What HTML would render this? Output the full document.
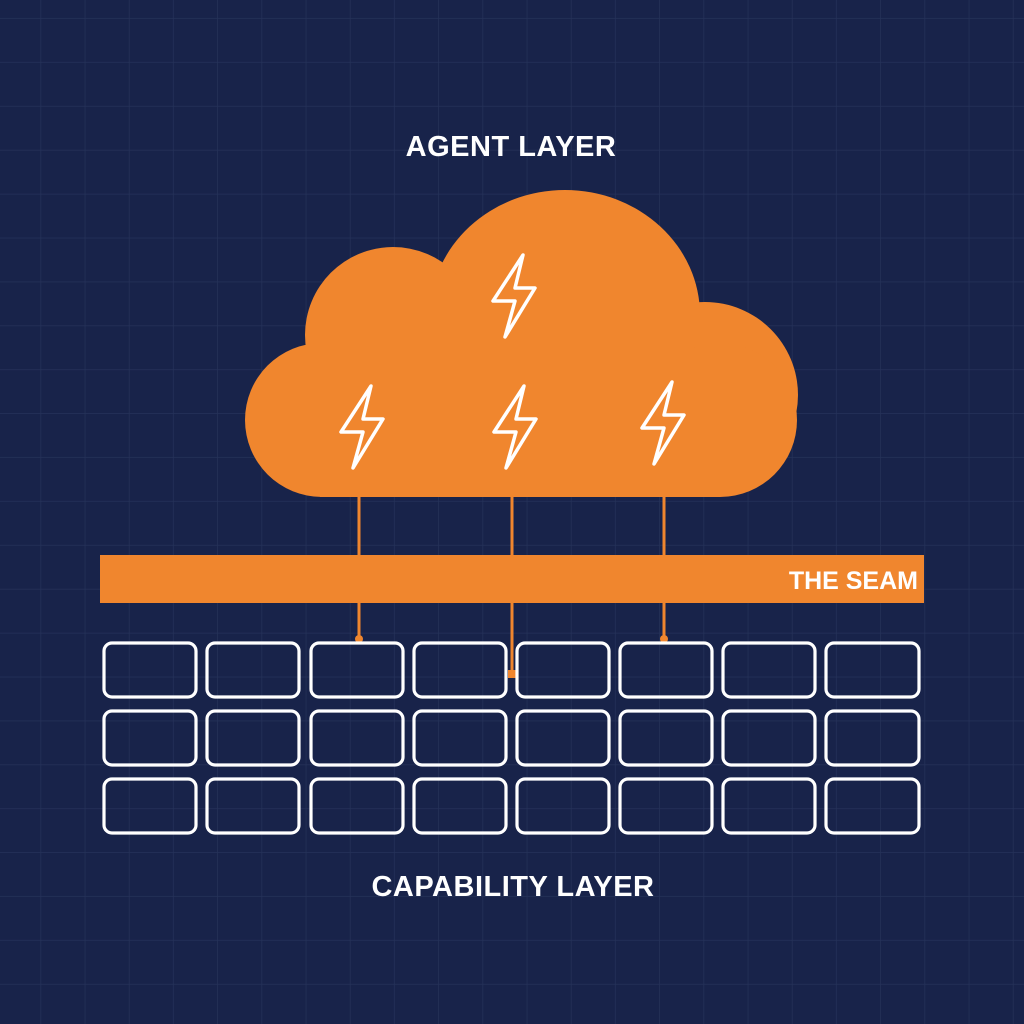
<!DOCTYPE html>
<html><head><meta charset="utf-8"><style>
html,body{margin:0;padding:0;background:#18234a;}
svg{display:block;}
</style></head><body>
<svg width="1024" height="1024" viewBox="0 0 1024 1024" xmlns="http://www.w3.org/2000/svg">
<defs>
<pattern id="g" x="-3" y="-25" width="44.2" height="43.9" patternUnits="userSpaceOnUse">
<path d="M44.2 0 V43.9 M0 43.9 H44.2" stroke="#253259" stroke-width="1.4" fill="none"/>
</pattern>
<path id="bolt" d="M30 0 L0 46 L22 46 L12 82 L42 33 L22 33 Z"/>
</defs>
<rect width="1024" height="1024" fill="#18234a"/>
<rect width="1024" height="1024" fill="url(#g)"/>
<g font-family="Liberation Sans, sans-serif" fill="#fff" text-anchor="middle" font-weight="bold" style="letter-spacing:0.5px">
<text x="511" y="156" font-size="29">AGENT LAYER</text>
<text x="513" y="896" font-size="29">CAPABILITY LAYER</text>
</g>
<g fill="#f0862e">
<ellipse cx="565" cy="315" rx="135" ry="125"/>
<circle cx="393" cy="335" r="88"/>
<circle cx="322" cy="420" r="77"/>
<circle cx="705" cy="395" r="93"/>
<circle cx="720" cy="420" r="77"/>
<rect x="320" y="300" width="370" height="197"/>
<rect x="320" y="390" width="400" height="107"/>
<rect x="100" y="555" width="824" height="48"/>
</g>
<text x="918" y="589" font-family="Liberation Sans, sans-serif" font-size="25" font-weight="bold" fill="#fff" text-anchor="end">THE SEAM</text>
<g fill="none" stroke="#fff" stroke-width="3.5" stroke-linejoin="round">
<use href="#bolt" x="493" y="255"/>
<use href="#bolt" x="341" y="386"/>
<use href="#bolt" x="494" y="386"/>
<use href="#bolt" x="642" y="382"/>
</g>
<g stroke="#f0862e" stroke-width="3">
<line x1="359" y1="497" x2="359" y2="555"/><line x1="359" y1="603" x2="359" y2="640"/>
<line x1="512" y1="497" x2="512" y2="555"/><line x1="512" y1="603" x2="512" y2="678"/>
<line x1="664" y1="497" x2="664" y2="555"/><line x1="664" y1="603" x2="664" y2="640"/>
</g>
<g fill="#f0862e">
<circle cx="359" cy="639" r="4"/><circle cx="664" cy="639" r="4"/><rect x="508" y="670" width="8" height="8"/>
</g>
<g fill="none" stroke="#fff" stroke-width="3.2">
<g id="row">
<rect x="104" y="643" width="92" height="54" rx="8"/>
<rect x="207" y="643" width="92" height="54" rx="8"/>
<rect x="311" y="643" width="92" height="54" rx="8"/>
<rect x="414" y="643" width="92" height="54" rx="8"/>
<rect x="517" y="643" width="92" height="54" rx="8"/>
<rect x="620" y="643" width="92" height="54" rx="8"/>
<rect x="723" y="643" width="92" height="54" rx="8"/>
<rect x="826" y="643" width="93" height="54" rx="8"/>
</g>
<use href="#row" y="68"/>
<use href="#row" y="136"/>
</g>
</svg>
</body></html>
